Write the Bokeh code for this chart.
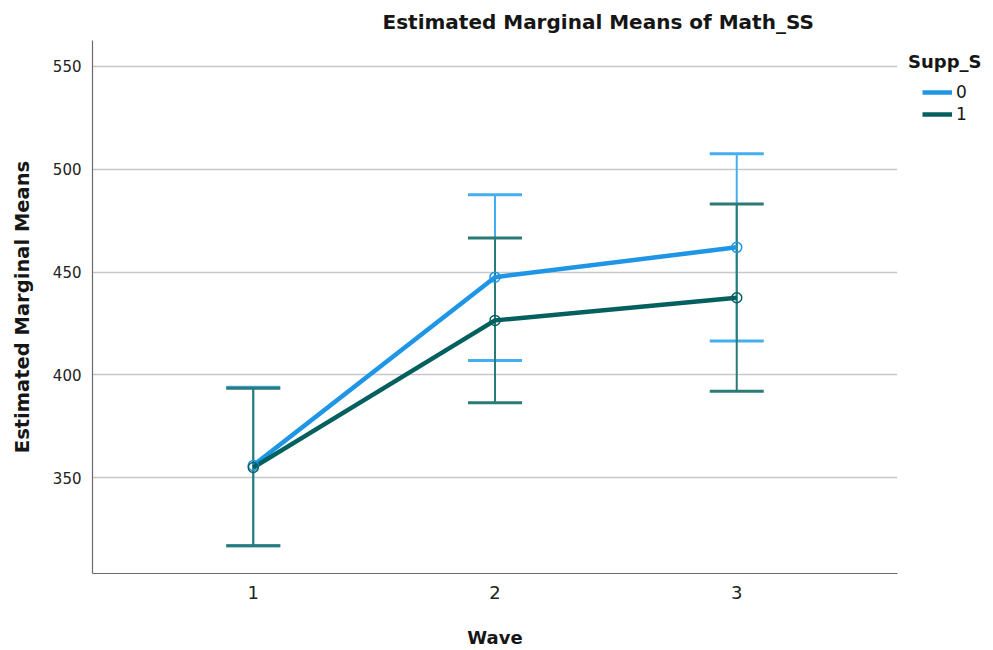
import numpy as np
from bokeh.plotting import figure
from bokeh.models import (ColumnDataSource, Whisker, TeeHead, Legend, LegendItem,
                          FixedTicker, Range1d)
from bokeh.embed import file_html
from bokeh.resources import INLINE

waves = [1, 2, 3]
mean_0 = [356, 447.5, 462]
lower_0 = [317, 407, 416.5]
upper_0 = [394, 487.5, 507.5]
mean_1 = [355, 426.5, 437.5]
lower_1 = [317, 386.5, 392]
upper_1 = [393.5, 466.5, 483]
y_ticks = [350, 400, 450, 500, 550]
group_labels = ["0", "1"]
legend_title = "Supp_S"

col0 = "#1f95e6"
col0_err = "#45aef0"
col1 = "#04605e"
col1_err = "#2a7a78"
FONT = "DejaVu Sans"

p = figure(output_backend="svg", toolbar_location=None,
           x_range=Range1d(0.335, 3.665), y_range=Range1d(303.5, 562.5),
           frame_width=805, frame_height=533,
           min_border_left=92, min_border_top=40, min_border_bottom=10,
           min_border_right=0,
           title="Estimated Marginal Means of Math_SS")

p.title.text_font = FONT
p.title.text_font_size = "20px"
p.title.text_font_style = "bold"
p.title.text_color = "#161616"
p.title.align = "left"
p.title.offset = 290
p.title.standoff = 13

p.outline_line_color = None
p.xgrid.grid_line_color = None
p.ygrid.grid_line_color = "#c8c8c8"
p.ygrid.grid_line_width = 1.5

p.yaxis.ticker = FixedTicker(ticks=y_ticks)
p.xaxis.ticker = FixedTicker(ticks=waves)
for ax in (p.xaxis, p.yaxis):
    ax.axis_line_color = "#6b6b6b"
    ax.axis_line_width = 1.2
    ax.major_tick_line_color = None
    ax.minor_tick_line_color = None
    ax.major_label_text_font = FONT
    ax.major_label_text_color = "#222222"
    ax.axis_label_text_font = FONT
    ax.axis_label_text_font_style = "bold"
    ax.axis_label_text_color = "#161616"
p.xaxis.axis_label_text_font_size = "18px"
p.yaxis.axis_label_text_font_size = "19.5px"
p.yaxis.major_label_text_font_size = "15px"
p.xaxis.major_label_text_font_size = "18px"
p.xaxis.axis_label = "Wave"
p.yaxis.axis_label = "Estimated Marginal Means"
p.xaxis.major_label_standoff = 6
p.xaxis.axis_label_standoff = 25
p.yaxis.major_label_standoff = 5
p.yaxis.axis_label_standoff = 16

src0 = ColumnDataSource(dict(x=waves, m=mean_0, lo=lower_0, hi=upper_0))
src1 = ColumnDataSource(dict(x=waves, m=mean_1, lo=lower_1, hi=upper_1))

p.line("x", "m", source=src0, line_color=col0, line_width=4.5)
p.line("x", "m", source=src1, line_color=col1, line_width=4.5)

for src, c in ((src0, col0_err), (src1, col1_err)):
    w = Whisker(source=src, base="x", lower="lo", upper="hi",
                line_color=c, line_width=2,
                upper_head=TeeHead(size=54, line_color=c, line_width=3),
                lower_head=TeeHead(size=54, line_color=c, line_width=3))
    p.add_layout(w)

p.scatter("x", "m", source=src0, size=10, marker="circle", fill_color=None,
          line_color=col0, line_width=1.5)
p.scatter("x", "m", source=src1, size=10, marker="circle", fill_color=None,
          line_color=col1, line_width=1.5)

# legend-only renderers (a single NaN point draws nothing); the dash offset
# indents the swatch under the legend title
blank = ColumnDataSource(dict(x=np.array([np.nan]), y=np.array([np.nan])))
k0 = p.line("x", "y", source=blank, line_color=col0, line_width=4.5,
            line_dash="30 1000", line_dash_offset=-14)
k1 = p.line("x", "y", source=blank, line_color=col1, line_width=4.5,
            line_dash="30 1000", line_dash_offset=-14)

legend = Legend(items=[LegendItem(label=group_labels[0], renderers=[k0]),
                       LegendItem(label=group_labels[1], renderers=[k1])],
                title=legend_title, location="top_left")
legend.title_text_font = FONT
legend.title_text_font_style = "bold"
legend.title_text_font_size = "18px"
legend.title_text_color = "#161616"
legend.title_standoff = 10
legend.label_text_font = FONT
legend.label_text_font_size = "17px"
legend.label_text_color = "#161616"
legend.border_line_color = None
legend.background_fill_alpha = 0
legend.glyph_width = 44
legend.glyph_height = 20
legend.label_standoff = 4
legend.spacing = 2
legend.padding = 0
legend.margin = 11
p.add_layout(legend, "right")

open("out.html", "w").write(file_html(p, INLINE))
